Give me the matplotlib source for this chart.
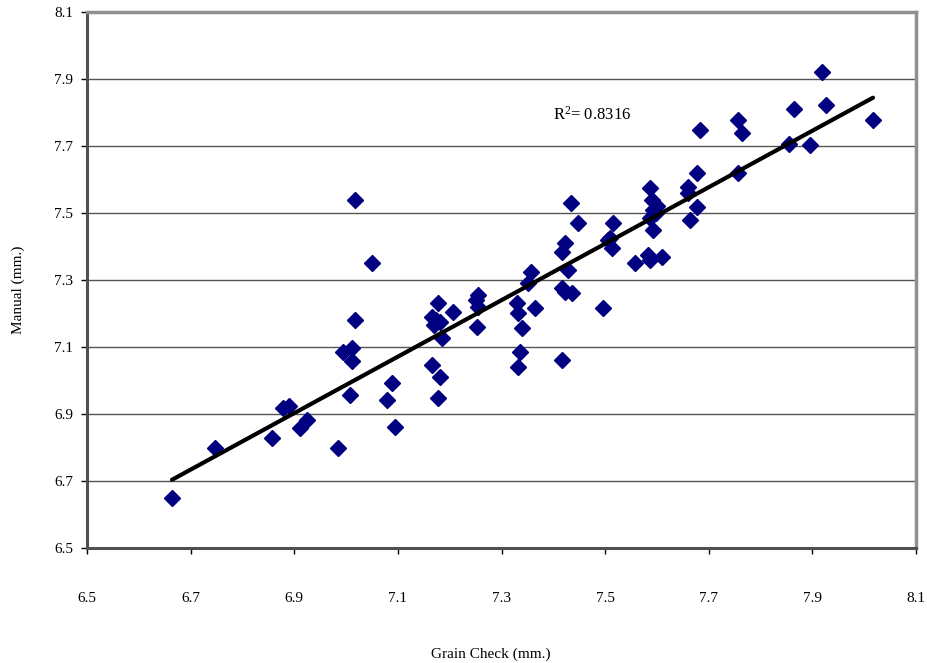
import numpy as np
import matplotlib
matplotlib.use("Agg")
import matplotlib.pyplot as plt

plt.rcParams['font.family'] = ['Liberation Serif', 'DejaVu Serif']
plt.rcParams['mathtext.fontset'] = 'custom'
plt.rcParams['mathtext.rm'] = 'Liberation Serif'
plt.rcParams['mathtext.it'] = 'Liberation Serif:italic'

grain_check = [6.664, 6.747, 6.857, 6.878, 6.890, 6.911, 6.925, 6.984, 6.994, 7.011,
               7.011, 7.008, 7.017, 7.017, 7.050, 7.079, 7.089, 7.094, 7.166, 7.166,
               7.177, 7.181, 7.181, 7.177, 7.185, 7.206, 7.255, 7.255, 7.253, 7.330,
               7.332, 7.365, 7.340, 7.336, 7.332, 7.351, 7.357, 7.417, 7.423, 7.417,
               7.428, 7.423, 7.436, 7.417, 7.434, 7.448, 7.496, 7.506, 7.515, 7.513,
               7.509, 7.558, 7.583, 7.587, 7.610, 7.587, 7.591, 7.592, 7.587, 7.592,
               7.664, 7.660, 7.660, 7.677, 7.677, 7.683, 7.757, 7.764, 7.757, 7.865,
               7.855, 7.895, 7.919, 7.926, 8.017, 7.170, 7.174, 7.600, 7.598, 7.250]
manual = [6.649, 6.799, 6.828, 6.918, 6.924, 6.858, 6.882, 6.799, 7.085, 7.097,
          7.058, 6.957, 7.539, 7.181, 7.351, 6.942, 6.993, 6.861, 7.190, 7.046,
          7.231, 7.175, 7.010, 6.948, 7.127, 7.204, 7.255, 7.219, 7.160, 7.231,
          7.201, 7.216, 7.157, 7.085, 7.040, 7.291, 7.324, 7.061, 7.410, 7.384,
          7.330, 7.264, 7.261, 7.276, 7.530, 7.470, 7.216, 7.419, 7.470, 7.396,
          7.425, 7.351, 7.375, 7.360, 7.369, 7.575, 7.539, 7.509, 7.485, 7.449,
          7.479, 7.578, 7.560, 7.619, 7.518, 7.748, 7.778, 7.739, 7.619, 7.810,
          7.706, 7.703, 7.921, 7.822, 7.778, 7.165, 7.182, 7.520, 7.500, 7.240]

x_ticks = [6.5, 6.7, 6.9, 7.1, 7.3, 7.5, 7.7, 7.9, 8.1]
y_ticks = [6.5, 6.7, 6.9, 7.1, 7.3, 7.5, 7.7, 7.9, 8.1]
r2_label = r'R$^{2}$= 0.8316'

fig = plt.figure(figsize=(9.27, 6.63), dpi=100)
ax = fig.add_axes([87/927, 1 - 548/663, (916-87)/927, (548-12)/663])

for yv in y_ticks[1:-1]:
    ax.axhline(yv, color='#555555', lw=1.0, zorder=1)

x = np.array(grain_check)
y = np.array(manual)
ax.plot(x, y, linestyle='none', marker='D', markersize=8, color='#000080',
        markeredgecolor='#000080', zorder=3)

coef = np.polyfit(x, y, 1)
xl = np.array([x.min(), x.max()])
ax.plot(xl, np.polyval(coef, xl), color='black', lw=3, zorder=4, solid_capstyle='round')

ax.text(7.399, 7.793, r2_label, fontsize=12, ha='left', va='center')

ax.set_xlim(6.5, 8.1)
ax.set_ylim(6.5, 8.1)
ax.set_xticks(x_ticks)
ax.set_yticks(y_ticks)
ax.set_xticklabels([f'{v:.1f}' for v in x_ticks])
ax.set_yticklabels([f'{v:.1f}' for v in y_ticks])
ax.tick_params(axis='x', direction='out', length=4, width=1, pad=28, labelsize=11, colors='black')
ax.tick_params(axis='y', direction='out', length=4, width=1, pad=6, labelsize=11, colors='black')

for s in ['top', 'right']:
    ax.spines[s].set_color('#909090')
    ax.spines[s].set_linewidth(2.5)
for s in ['left', 'bottom']:
    ax.spines[s].set_color('#505050')
    ax.spines[s].set_linewidth(2.2)

fig.text(491/927, 1 - 654/663, 'Grain Check (mm.)', ha='center', va='center', fontsize=11)
fig.text(18/927, 1 - 290/663, 'Manual (mm.)', ha='center', va='center', rotation=90, fontsize=11)

fig.savefig('out.png', dpi=100)
